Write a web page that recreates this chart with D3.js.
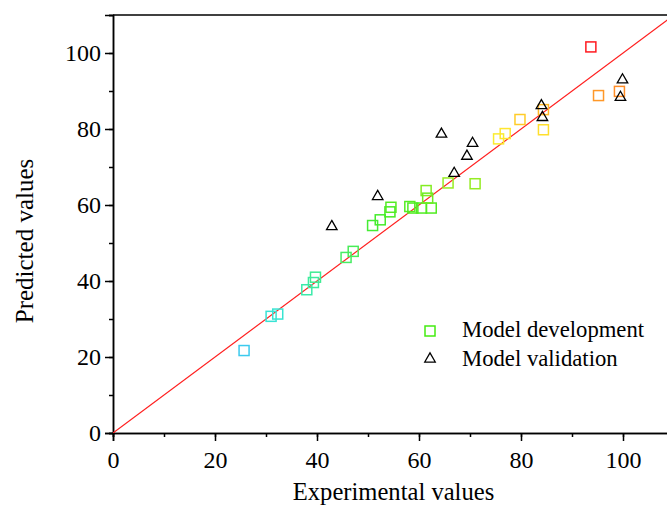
<!DOCTYPE html>
<html>
<head>
<meta charset="utf-8">
<script src="https://cdn.jsdelivr.net/npm/d3@7"></script>
<style>
  body { margin: 0; background: #fff; }
  svg { display: block; font-family: "Liberation Serif", "Times New Roman", serif; }
</style>
</head>
<body>
<svg id="chart" width="667" height="509"></svg>
<script>
// model development points (squares)
var devExp  = [25.7, 31.0, 32.3, 38.0, 39.3, 39.7, 45.7, 47.1, 50.9, 52.4, 54.3, 54.5, 58.2, 58.8, 60.5, 62.4, 61.4, 61.7, 65.7, 71.0, 75.6, 76.9, 79.8, 84.4, 84.4, 95.2, 99.3, 93.7];
var devPred = [21.7, 30.7, 31.3, 37.7, 39.6, 41.0, 46.2, 47.8, 54.6, 56.1, 58.2, 59.4, 59.6, 59.2, 59.2, 59.2, 63.8, 61.8, 65.8, 65.6, 77.4, 78.8, 82.5, 85.1, 79.8, 88.8, 89.9, 101.6];

// model validation points (triangles)
var valExp  = [42.9, 51.9, 64.4, 66.9, 69.4, 70.5, 84.0, 84.2, 99.9, 99.5];
var valPred = [54.6, 62.5, 78.9, 68.6, 73.1, 76.5, 86.4, 83.3, 93.2, 88.6];

var xTicks = [0, 20, 40, 60, 80, 100];
var yTicks = [0, 20, 40, 60, 80, 100];
var legendLabels = ['Model development', 'Model validation'];

var svg = d3.select('#chart');
var margin = {left: 113, top: 15, bottom: 433};
var x = d3.scaleLinear().domain([0, 110]).range([margin.left, margin.left + 110 * 5.1]);
var y = d3.scaleLinear().domain([0, 110]).range([margin.bottom, margin.top]);

// squares are coloured by predicted value
var color = d3.scaleLinear()
  .domain([21, 31, 40, 47, 58, 65, 78, 83, 89, 101])
  .range(['#3cc8f0', '#38e4d4', '#3cec9c', '#48ec5c', '#44ec22', '#90ec22', '#ffec30', '#ffc828', '#ff9628', '#ff2020']);

// frame
svg.append('line').attr('x1', margin.left).attr('x2', x(110)).attr('y1', y(110)).attr('y2', y(110))
  .attr('stroke', '#000').attr('stroke-width', 1.5);
svg.append('line').attr('x1', x(110)).attr('x2', x(110)).attr('y1', y(110)).attr('y2', y(0))
  .attr('stroke', '#000').attr('stroke-width', 1.5);

var xAxis = svg.append('g')
  .attr('transform', 'translate(0,' + margin.bottom + ')')
  .call(d3.axisBottom(x).tickValues(d3.range(0, 111, 10)).tickSize(4).tickFormat(''));
xAxis.append('g').call(d3.axisBottom(x).tickValues(xTicks).tickSize(8).tickPadding(10));

var yAxis = svg.append('g')
  .attr('transform', 'translate(' + margin.left + ',0)')
  .call(d3.axisLeft(y).tickValues(d3.range(0, 111, 10)).tickSize(4).tickFormat(''));
yAxis.append('g').call(d3.axisLeft(y).tickValues(yTicks).tickSize(8).tickPadding(4));

svg.selectAll('.domain').attr('stroke-width', 1.5);
svg.selectAll('.tick line').attr('stroke-width', 1.5);
svg.selectAll('.tick text').attr('font-family', 'Liberation Serif').attr('font-size', 24).attr('fill', '#000');
xAxis.selectAll('.tick text').attr('dy', '0.71em');

// 1:1 line
svg.append('defs').append('clipPath').attr('id', 'clip')
  .append('rect').attr('x', x(0)).attr('y', y(110)).attr('width', x(110) - x(0)).attr('height', y(0) - y(110));
svg.append('line')
  .attr('clip-path', 'url(#clip)')
  .attr('x1', x(0)).attr('y1', y(0)).attr('x2', x(110)).attr('y2', y(110))
  .attr('stroke', '#ff2020').attr('stroke-width', 1.2);

var sq = 10;
svg.append('g').selectAll('rect')
  .data(devExp.map(function(d, i) { return {x: d, y: devPred[i]}; }))
  .join('rect')
  .attr('x', function(d) { return x(d.x) - sq / 2; })
  .attr('y', function(d) { return y(d.y) - sq / 2; })
  .attr('width', sq).attr('height', sq)
  .attr('fill', 'none')
  .attr('stroke', function(d) { return color(d.y); })
  .attr('stroke-width', 1.5);

var tri = d3.symbol().type(d3.symbolTriangle).size(48);
svg.append('g').selectAll('path')
  .data(valExp.map(function(d, i) { return {x: d, y: valPred[i]}; }))
  .join('path')
  .attr('d', tri)
  .attr('transform', function(d) { return 'translate(' + x(d.x) + ',' + (y(d.y) + 1) + ')'; })
  .attr('fill', 'none').attr('stroke', '#000').attr('stroke-width', 1.3);

// legend
var legend = svg.append('g');
legend.append('rect').attr('x', 425).attr('y', 326).attr('width', sq).attr('height', sq)
  .attr('fill', 'none').attr('stroke', '#44ec11').attr('stroke-width', 1.5);
legend.append('path').attr('d', tri).attr('transform', 'translate(430,359)')
  .attr('fill', 'none').attr('stroke', '#000').attr('stroke-width', 1.3);
legend.selectAll('text').data(legendLabels).join('text')
  .attr('x', 462).attr('y', function(d, i) { return 337 + i * 29; })
  .attr('font-size', 22.7).text(function(d) { return d; });

// axis titles
svg.append('text').attr('x', x(55)).attr('y', 500).attr('text-anchor', 'middle')
  .attr('font-size', 24.6).text('Experimental values');
svg.append('text').attr('transform', 'translate(33,241) rotate(-90)').attr('text-anchor', 'middle')
  .attr('font-size', 25).text('Predicted values');
</script>
</body>
</html>
